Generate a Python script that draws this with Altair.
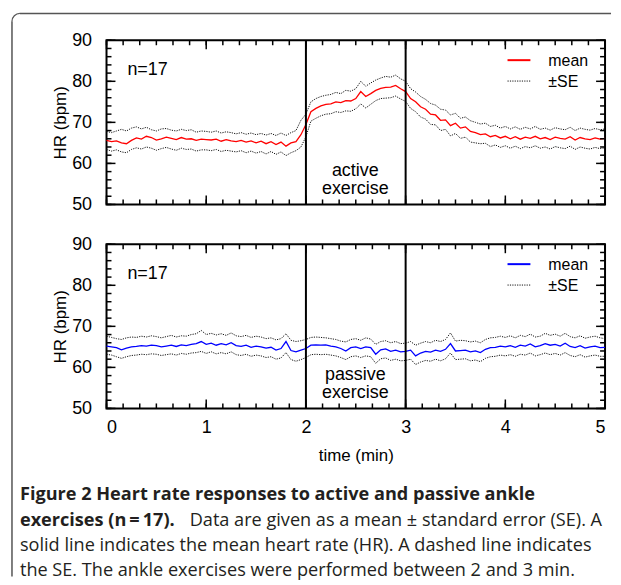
import altair as alt
import pandas as pd

# ---------------- data ----------------
time_min = [round(i * 0.05, 2) for i in range(101)]

active_mean = [
    65.6, 65.3, 65.5, 65.0, 64.8, 65.6, 66.2, 65.9, 66.6, 66.3,
    65.7, 66.0, 66.4, 66.1, 65.8, 66.3, 65.9, 66.0, 65.6, 65.9,
    65.8, 65.7, 65.9, 65.4, 65.8, 65.5, 65.3, 65.6, 65.2, 65.5,
    65.0, 65.4, 64.8, 65.3, 64.6, 65.2, 64.2, 65.0, 65.3, 67.0,
    69.5, 72.6, 73.4, 74.0, 74.4, 74.5, 75.0, 74.8, 75.3, 75.2,
    75.8, 77.5, 76.3, 77.0, 77.8, 78.3, 78.5, 78.6, 79.0, 78.2,
    77.5, 75.8, 75.0, 73.8, 73.2, 72.0, 71.8, 70.5, 70.6, 69.2,
    69.8, 68.6, 68.9, 67.8, 67.5, 67.0, 67.2, 66.5, 66.8, 66.2,
    66.6, 66.0, 66.5, 65.9, 66.4, 66.1, 66.6, 66.0, 66.3, 65.8,
    66.4, 66.1, 65.9, 66.5, 65.7, 66.3, 66.0, 65.8, 66.2, 65.9, 66.1,
]
active_upper = [
    67.8, 67.5, 67.9, 68.3, 67.9, 68.6, 68.9, 68.4, 68.8, 68.2,
    67.9, 68.4, 68.5, 68.1, 67.9, 68.3, 68.0, 68.2, 67.6, 67.9,
    67.8, 67.6, 67.9, 67.4, 67.7, 67.5, 67.2, 67.5, 67.1, 67.4,
    67.0, 67.3, 66.9, 67.3, 66.8, 67.4, 66.8, 67.5, 68.0, 70.5,
    72.0, 75.0, 75.8, 76.3, 76.6, 76.8, 77.3, 77.0, 77.8, 77.6,
    78.2, 80.0, 78.8, 79.6, 80.3, 80.8, 81.2, 81.0, 81.5, 80.6,
    80.0, 78.2, 77.4, 76.3, 75.6, 74.6, 74.2, 73.2, 73.0, 71.8,
    72.2, 71.0, 71.3, 70.4, 70.0, 69.6, 69.8, 69.0, 69.3, 68.6,
    69.0, 68.4, 68.9, 68.3, 68.8, 68.4, 69.0, 68.3, 68.6, 68.1,
    68.7, 68.4, 68.2, 68.8, 68.0, 68.6, 68.3, 68.1, 68.5, 68.2, 68.4,
]
active_lower = [
    63.4, 63.0, 63.3, 62.8, 62.6, 63.4, 63.8, 63.5, 64.0, 63.7,
    63.2, 63.6, 63.9, 63.5, 63.2, 63.7, 63.4, 63.5, 63.0, 63.3,
    63.3, 63.1, 63.4, 62.9, 63.2, 63.0, 62.8, 63.1, 62.6, 63.0,
    62.5, 62.9, 62.3, 62.9, 62.2, 62.8, 61.9, 62.6, 63.1, 64.0,
    66.5, 70.3, 71.0, 71.6, 72.0, 72.1, 72.6, 72.4, 72.8, 72.7,
    73.3, 74.5, 73.5, 74.4, 75.3, 75.8, 75.9, 76.0, 76.4, 75.7,
    75.1, 73.4, 72.6, 71.3, 70.8, 69.5, 69.4, 68.0, 68.3, 66.7,
    67.3, 66.1, 66.4, 65.2, 65.0, 64.8, 64.9, 64.1, 64.5, 63.9,
    64.3, 63.7, 64.2, 63.6, 64.1, 63.8, 64.3, 63.7, 64.0, 63.5,
    64.1, 63.8, 63.6, 64.2, 63.4, 64.0, 63.7, 63.5, 63.9, 63.6, 63.8,
]

passive_mean = [
    65.2, 65.0, 64.8, 64.3, 64.7, 65.0, 65.1, 65.3, 65.2, 65.4,
    65.3, 65.0, 65.2, 65.4, 65.1, 65.5, 65.3, 65.6, 65.8, 66.3,
    65.6, 65.9, 65.4, 65.8, 65.5, 66.0, 65.3, 65.1, 65.4, 64.9,
    65.2, 65.0, 64.7, 64.9, 64.2, 64.6, 66.3, 64.1, 63.8, 64.2,
    64.6, 65.4, 65.5, 65.4, 65.5, 65.2, 65.0, 64.6, 64.0, 64.8,
    65.0, 64.6, 65.0, 64.8, 63.2, 64.3, 64.5, 63.9, 64.2, 63.8,
    63.9, 64.2, 62.8, 63.5, 63.9, 63.7, 64.2, 63.9, 64.4, 65.8,
    64.0, 64.1, 64.2, 63.8, 64.0, 63.6, 64.4, 64.8, 64.9, 65.2,
    65.0, 65.3, 64.9, 65.4, 65.2, 65.7, 65.0, 65.3, 65.8, 65.4,
    65.6, 65.2, 65.9, 65.1, 64.8, 65.3, 64.7, 65.0, 65.2, 64.8, 64.9,
]
passive_upper = [
    67.6, 67.3, 67.0, 66.8, 67.2, 67.4, 67.3, 67.6, 67.4, 67.7,
    67.5, 67.2, 67.5, 67.8, 67.4, 67.7, 67.6, 68.0, 68.2, 69.0,
    68.0, 68.3, 67.9, 68.2, 67.8, 68.4, 67.7, 67.5, 67.8, 67.3,
    67.6, 67.4, 67.0, 67.2, 66.7, 67.0, 68.2, 66.6, 66.3, 66.5,
    66.8, 67.3, 67.4, 67.3, 67.2, 67.0, 66.8, 66.4, 66.2, 66.8,
    67.0, 66.6, 67.2, 66.9, 65.6, 66.3, 66.5, 66.0, 66.3, 65.8,
    65.9, 66.3, 65.4, 65.9, 66.3, 66.0, 66.6, 66.3, 66.8, 68.4,
    66.4, 66.6, 66.5, 66.2, 66.4, 66.0, 66.8, 67.2, 67.3, 67.6,
    67.3, 67.7, 67.2, 67.8, 67.5, 68.1, 67.4, 67.6, 68.3, 67.8,
    68.1, 67.6, 68.3, 67.5, 67.2, 67.7, 67.1, 67.4, 67.6, 67.2, 67.0,
]
passive_lower = [
    63.2, 63.0, 62.6, 62.2, 62.6, 62.9, 63.0, 63.2, 63.1, 63.3,
    63.2, 62.9, 63.1, 63.3, 63.0, 63.4, 63.2, 63.5, 63.6, 63.9,
    63.4, 63.8, 63.3, 63.6, 63.3, 63.8, 63.1, 62.9, 63.2, 62.7,
    63.0, 62.8, 62.4, 62.6, 62.0, 62.3, 63.6, 61.9, 61.5, 61.9,
    62.4, 63.1, 63.2, 63.1, 63.2, 63.0, 62.8, 62.4, 61.9, 62.6,
    62.8, 62.4, 62.8, 62.6, 61.0, 62.1, 62.3, 61.7, 62.0, 61.6,
    61.7, 62.0, 60.7, 61.3, 61.7, 61.5, 62.0, 61.6, 62.1, 63.5,
    61.9, 62.0, 62.1, 61.6, 61.8, 61.4, 62.2, 62.6, 62.7, 63.0,
    62.8, 63.1, 62.7, 63.2, 63.0, 63.5, 62.8, 63.1, 63.5, 63.1,
    63.4, 63.0, 63.6, 62.9, 62.6, 63.1, 62.5, 62.8, 63.0, 62.7, 62.7,
]

exercise_bounds = [2, 3]
x_major_ticks = [0, 1, 2, 3, 4, 5]
x_minor_ticks = [round(i / 6, 4) for i in range(31)]
y_major_ticks = [50, 60, 70, 80, 90]
y_minor_ticks = list(range(50, 91, 2))

caption_line1 = "Figure 2 Heart rate responses to active and passive ankle"
caption_line2_bold = "exercises (n\u2009=\u200917)."
caption_line2 = "Data are given as a mean \u00b1 standard error (SE). A"
caption_line3 = "solid line indicates the mean heart rate (HR). A dashed line indicates"
caption_line4 = "the SE. The ankle exercises were performed between 2 and 3 min."

# ---------------- layout constants ----------------
W, H = 501, 165
FONT = "Liberation Sans"
CAP_FONT = "Open Sans"
CAP_SIZE = 18.2
one = pd.DataFrame({"k": [0]})


def txt(s, x, y, size, align="left", font=FONT, weight="normal", color="black"):
    return alt.Chart(one).mark_text(
        text=s, align=align, baseline="middle", font=font, fontSize=size,
        fontWeight=weight, color=color,
    ).encode(x=alt.value(x), y=alt.value(y))


def panel(mean, upper, lower, color, label, show_x, extra):
    df = pd.DataFrame({"t": time_min, "mean": mean, "upper": upper, "lower": lower})
    xscale = alt.Scale(domain=[0, 5], nice=False, zero=False)
    yscale = alt.Scale(domain=[50, 90], nice=False, zero=False)
    if show_x:
        xaxis = alt.Axis(values=x_major_ticks, ticks=False, domain=False, grid=False,
                         labelFontSize=18, labelPadding=10, format="d",
                         title="time (min)", titleFontSize=17, titlePadding=11,
                         titleFontWeight="normal")
    else:
        xaxis = None
    yaxis = alt.Axis(values=y_major_ticks, ticks=False, domain=False, grid=False,
                     labelFontSize=18, labelPadding=15, title="HR (bpm)",
                     titleFontSize=17, titleFontWeight="normal", titlePadding=2)

    def X(f):
        return alt.X(f, type="quantitative", scale=xscale, axis=xaxis)

    def Y(f):
        return alt.Y(f, type="quantitative", scale=yscale, axis=yaxis)

    layers = []
    for col in ["upper", "lower"]:
        layers.append(alt.Chart(df).mark_line(color="#111111", strokeWidth=1,
                                              strokeDash=[1.2, 1.2]).encode(x=X("t"), y=Y(col)))
    layers.append(alt.Chart(df).mark_line(color=color, strokeWidth=1.3).encode(x=X("t"), y=Y("mean")))
    layers.append(alt.Chart(pd.DataFrame({"t": exercise_bounds})).mark_rule(
        color="black", strokeWidth=2).encode(x=X("t")))

    xmin = pd.DataFrame({"t": x_minor_ticks})
    xmaj = pd.DataFrame({"t": x_major_ticks})
    ymin = pd.DataFrame({"v": y_minor_ticks})
    ymaj = pd.DataFrame({"v": y_major_ticks})
    for d, ln in [(xmin, 5), (xmaj, 9)]:
        layers.append(alt.Chart(d).mark_rule(color="black", strokeWidth=1.5).encode(
            x=X("t"), y=alt.value(H), y2=alt.value(H - ln)))
        layers.append(alt.Chart(d).mark_rule(color="black", strokeWidth=1.5).encode(
            x=X("t"), y=alt.value(0), y2=alt.value(ln)))
    for d, ln in [(ymin, 5), (ymaj, 9)]:
        layers.append(alt.Chart(d).mark_rule(color="black", strokeWidth=1.5).encode(
            y=Y("v"), x=alt.value(0), x2=alt.value(ln)))
        layers.append(alt.Chart(d).mark_rule(color="black", strokeWidth=1.5).encode(
            y=Y("v"), x=alt.value(W), x2=alt.value(W - ln)))

    # annotations
    layers.append(txt("n=17", 21, 30, 18))
    layers.append(txt(label, 250, 131, 18, align="center"))
    layers.append(txt("exercise", 250, 150, 18, align="center"))
    # manual legend
    layers.append(alt.Chart(one).mark_rule(color=color, strokeWidth=2).encode(
        x=alt.value(403), x2=alt.value(426), y=alt.value(20)))
    layers.append(alt.Chart(one).mark_rule(color="#111111", strokeWidth=1, strokeDash=[1.2, 1.2]).encode(
        x=alt.value(403), x2=alt.value(426), y=alt.value(41)))
    layers.append(txt("mean", 444, 21, 16))
    layers.append(txt("\u00b1SE", 444, 42, 16))
    layers.extend(extra)
    return alt.layer(*layers).properties(width=W, height=H)


# frame around the figure (drawn from the top panel)
frame_col = "#555555"
frame = [
    alt.Chart(one).mark_rule(color=frame_col, strokeWidth=1.5).encode(
        x=alt.value(-87), x2=alt.value(507), y=alt.value(-27)),
    alt.Chart(one).mark_rule(color=frame_col, strokeWidth=1.5).encode(
        x=alt.value(-95), y=alt.value(-19), y2=alt.value(539)),
    alt.Chart(one).mark_arc(theta=4.7124, theta2=6.2832, radius=8.6, radius2=7.4,
                            color=frame_col).encode(x=alt.value(-87), y=alt.value(-19)),
]

# caption (drawn from the bottom panel)
cap_col = "#231f20"
caption = [
    txt(caption_line1, -87, 252, CAP_SIZE, font=CAP_FONT, weight="bold", color=cap_col),
    txt(caption_line2_bold, -87, 278, CAP_SIZE, font=CAP_FONT, weight="bold", color=cap_col),
    txt(caption_line2, 498, 278, CAP_SIZE, align="right", font=CAP_FONT, color=cap_col),
    txt(caption_line3, -87, 303, CAP_SIZE, font=CAP_FONT, color=cap_col),
    txt(caption_line4, -87, 328, CAP_SIZE, font=CAP_FONT, color=cap_col),
]

top = panel(active_mean, active_upper, active_lower, "#ff0000", "active", False, frame)
bottom = panel(passive_mean, passive_upper, passive_lower, "#0000ff", "passive", True, caption)

chart = alt.vconcat(top, bottom, spacing=40, bounds="flush").properties(
    padding={"left": 2, "top": 2, "right": 0, "bottom": 0}
).configure_view(
    stroke="black", strokeWidth=2
).configure_axis(
    labelFont=FONT, titleFont=FONT, labelColor="black", titleColor="black"
)

chart.save("out.html", embed_options={"renderer": "svg", "actions": False})
